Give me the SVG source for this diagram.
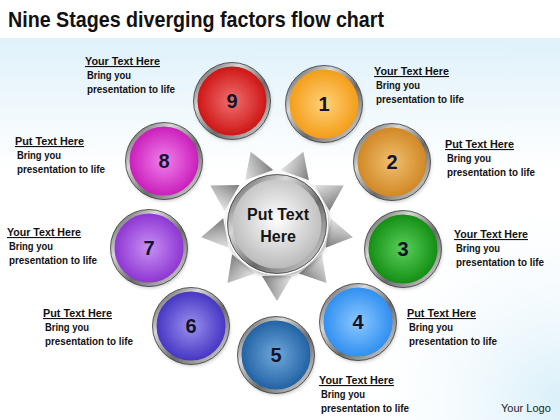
<svg xmlns="http://www.w3.org/2000/svg" xmlns:xlink="http://www.w3.org/1999/xlink" width="560" height="420" viewBox="0 0 560 420">
<defs>
<style>
.title{font-family:"Liberation Sans",Arial,sans-serif;font-weight:bold;font-size:22px;fill:#111}
.hd{font-family:"Liberation Sans",Arial,sans-serif;font-weight:bold;font-size:11px;fill:#111;text-decoration:underline}
.bd{font-family:"Liberation Sans",Arial,sans-serif;font-weight:bold;font-size:10.5px;fill:#111}
.num{font-family:"Liberation Sans",Arial,sans-serif;font-weight:bold;font-size:20px;fill:#141428;text-anchor:middle}
.ctr{font-family:"Liberation Sans",Arial,sans-serif;font-weight:bold;font-size:16px;fill:#151515;text-anchor:middle}
.logo{font-family:"Liberation Sans",Arial,sans-serif;font-size:11px;fill:#222}
.ring{fill:none;stroke:url(#metal);stroke-width:4}
.rim{fill:none;stroke:#3a3a3a;stroke-width:0.8}
.hl{fill:url(#hl)}
</style>
<linearGradient id="bgTop" x1="0" y1="0" x2="0" y2="1">
<stop offset="0" stop-color="#dff1fa"/>
<stop offset="0.35" stop-color="#ffffff"/>
<stop offset="1" stop-color="#ffffff"/>
</linearGradient>
<radialGradient id="bgBR" cx="560" cy="400" r="220" gradientUnits="userSpaceOnUse">
<stop offset="0" stop-color="#d9eff9"/>
<stop offset="1" stop-color="#ffffff" stop-opacity="0"/>
</radialGradient>
<linearGradient id="metal" x1="0" y1="0" x2="1" y2="1">
<stop offset="0" stop-color="#4a4a4a"/>
<stop offset="0.3" stop-color="#d8d8d8"/>
<stop offset="0.6" stop-color="#6a6a6a"/>
<stop offset="1" stop-color="#e0e0e0"/>
</linearGradient>
<radialGradient id="hl" cx="0.5" cy="0.25" r="0.5">
<stop offset="0" stop-color="#ffffff" stop-opacity="0.35"/>
<stop offset="1" stop-color="#ffffff" stop-opacity="0"/>
</radialGradient>
<filter id="sh" x="-30%" y="-30%" width="160%" height="160%">
<feDropShadow dx="1" dy="2" stdDeviation="2" flood-color="#000" flood-opacity="0.35"/>
</filter>
<radialGradient id="g1" cx="0.5" cy="0.5" r="0.5"><stop offset="0" stop-color="#ffd27a"/><stop offset="1" stop-color="#f39a12"/></radialGradient>
<radialGradient id="g2" cx="0.5" cy="0.5" r="0.5"><stop offset="0" stop-color="#f0c070"/><stop offset="1" stop-color="#cf8420"/></radialGradient>
<radialGradient id="g3" cx="0.5" cy="0.5" r="0.5"><stop offset="0" stop-color="#5ad05a"/><stop offset="1" stop-color="#108a10"/></radialGradient>
<radialGradient id="g4" cx="0.5" cy="0.5" r="0.5"><stop offset="0" stop-color="#8cc8ff"/><stop offset="1" stop-color="#2a8cf0"/></radialGradient>
<radialGradient id="g5" cx="0.5" cy="0.5" r="0.5"><stop offset="0" stop-color="#70a8dc"/><stop offset="1" stop-color="#1d5ea0"/></radialGradient>
<radialGradient id="g6" cx="0.5" cy="0.5" r="0.5"><stop offset="0" stop-color="#9a90f0"/><stop offset="1" stop-color="#4030c0"/></radialGradient>
<radialGradient id="g7" cx="0.5" cy="0.5" r="0.5"><stop offset="0" stop-color="#c890f4"/><stop offset="1" stop-color="#8a30d0"/></radialGradient>
<radialGradient id="g8" cx="0.5" cy="0.5" r="0.5"><stop offset="0" stop-color="#f080ec"/><stop offset="1" stop-color="#c818b8"/></radialGradient>
<radialGradient id="g9" cx="0.5" cy="0.5" r="0.5"><stop offset="0" stop-color="#f07070"/><stop offset="1" stop-color="#cc1010"/></radialGradient>
<radialGradient id="gc" cx="0.5" cy="0.45" r="0.55"><stop offset="0" stop-color="#ffffff"/><stop offset="1" stop-color="#b8b8b8"/></radialGradient>
<linearGradient id="tri" x1="0" y1="0" x2="0" y2="1">
<stop offset="0" stop-color="#e4e4e4"/>
<stop offset="0.5" stop-color="#b4b4b4"/>
<stop offset="1" stop-color="#7c7c7c"/>
</linearGradient>
<polygon id="ray" points="52,-15 77,0 52,15" fill="url(#tri)"/>
</defs>

<rect x="0" y="0" width="560" height="420" fill="#ffffff"/>
<rect x="0" y="38" width="560" height="382" fill="url(#bgTop)"/>
<rect x="0" y="0" width="560" height="420" fill="url(#bgBR)"/>

<text class="title" x="8" y="27" textLength="376" lengthAdjust="spacingAndGlyphs">Nine Stages diverging factors flow chart</text>

<g id="connectors">
<g id="rays" transform="translate(277,224)">
<use xlink:href="#ray" transform="rotate(90)"/>
<use xlink:href="#ray" transform="rotate(130)"/>
<use xlink:href="#ray" transform="rotate(170)"/>
<use xlink:href="#ray" transform="rotate(210)"/>
<use xlink:href="#ray" transform="rotate(250)"/>
<use xlink:href="#ray" transform="rotate(290)"/>
<use xlink:href="#ray" transform="rotate(330)"/>
<use xlink:href="#ray" transform="rotate(10)"/>
<use xlink:href="#ray" transform="rotate(50)"/>
</g>
</g>

<g id="center">
<circle cx="277" cy="224" r="51" fill="#ffffff" filter="url(#sh)"/>
<circle cx="277" cy="224" r="46" fill="url(#gc)"/>
<circle cx="277" cy="224" r="47" fill="none" stroke="url(#metal)" stroke-width="5"/>
<circle cx="277" cy="224" r="49.5" class="rim"/>
<text class="ctr" x="278" y="220">Put Text</text>
<text class="ctr" x="278" y="242">Here</text>
</g>

<g id="node1">
<circle cx="324" cy="104" r="37" fill="url(#g1)" filter="url(#sh)"/>
<circle cx="324" cy="104" r="36.5" class="ring"/><circle cx="324" cy="104" r="38.5" class="rim"/>
<text class="num" x="324" y="111">1</text>
<text class="hd" x="374" y="75" textLength="75" lengthAdjust="spacingAndGlyphs">Your  Text Here</text>
<text class="bd" x="376" y="89" textLength="44" lengthAdjust="spacingAndGlyphs">Bring you</text>
<text class="bd" x="376" y="103" textLength="88" lengthAdjust="spacingAndGlyphs">presentation to life</text>
</g>

<g id="node2">
<circle cx="392" cy="162" r="37" fill="url(#g2)" filter="url(#sh)"/>
<circle cx="392" cy="162" r="36.5" class="ring"/><circle cx="392" cy="162" r="38.5" class="rim"/>
<text class="num" x="392" y="169">2</text>
<text class="hd" x="445" y="148" textLength="69" lengthAdjust="spacingAndGlyphs">Put Text Here</text>
<text class="bd" x="447" y="162" textLength="44" lengthAdjust="spacingAndGlyphs">Bring you</text>
<text class="bd" x="447" y="176" textLength="88" lengthAdjust="spacingAndGlyphs">presentation to life</text>
</g>

<g id="node3">
<circle cx="403" cy="249" r="37" fill="url(#g3)" filter="url(#sh)"/>
<circle cx="403" cy="249" r="36.5" class="ring"/><circle cx="403" cy="249" r="38.5" class="rim"/>
<text class="num" x="403" y="256">3</text>
<text class="hd" x="454" y="238" textLength="74" lengthAdjust="spacingAndGlyphs">Your Text Here</text>
<text class="bd" x="456" y="252" textLength="44" lengthAdjust="spacingAndGlyphs">Bring you</text>
<text class="bd" x="456" y="266" textLength="88" lengthAdjust="spacingAndGlyphs">presentation to life</text>
</g>

<g id="node4">
<circle cx="358" cy="322" r="37" fill="url(#g4)" filter="url(#sh)"/>
<circle cx="358" cy="322" r="36.5" class="ring"/><circle cx="358" cy="322" r="38.5" class="rim"/>
<text class="num" x="358" y="329">4</text>
<text class="hd" x="407" y="317" textLength="69" lengthAdjust="spacingAndGlyphs">Put Text Here</text>
<text class="bd" x="409" y="331" textLength="44" lengthAdjust="spacingAndGlyphs">Bring you</text>
<text class="bd" x="409" y="345" textLength="88" lengthAdjust="spacingAndGlyphs">presentation to life</text>
</g>

<g id="node5">
<circle cx="276" cy="355" r="37" fill="url(#g5)" filter="url(#sh)"/>
<circle cx="276" cy="355" r="36.5" class="ring"/><circle cx="276" cy="355" r="38.5" class="rim"/>
<text class="num" x="276" y="362">5</text>
<text class="hd" x="319" y="384" textLength="75" lengthAdjust="spacingAndGlyphs">Your  Text Here</text>
<text class="bd" x="321" y="398" textLength="44" lengthAdjust="spacingAndGlyphs">Bring you</text>
<text class="bd" x="321" y="412" textLength="88" lengthAdjust="spacingAndGlyphs">presentation to life</text>
</g>

<g id="node6">
<circle cx="191" cy="326" r="37" fill="url(#g6)" filter="url(#sh)"/>
<circle cx="191" cy="326" r="36.5" class="ring"/><circle cx="191" cy="326" r="38.5" class="rim"/>
<text class="num" x="191" y="333">6</text>
<text class="hd" x="43" y="317" textLength="69" lengthAdjust="spacingAndGlyphs">Put Text Here</text>
<text class="bd" x="45" y="331" textLength="44" lengthAdjust="spacingAndGlyphs">Bring you</text>
<text class="bd" x="45" y="345" textLength="88" lengthAdjust="spacingAndGlyphs">presentation to life</text>
</g>

<g id="node7">
<circle cx="149" cy="248" r="37" fill="url(#g7)" filter="url(#sh)"/>
<circle cx="149" cy="248" r="36.5" class="ring"/><circle cx="149" cy="248" r="38.5" class="rim"/>
<text class="num" x="149" y="255">7</text>
<text class="hd" x="7" y="236" textLength="74" lengthAdjust="spacingAndGlyphs">Your Text Here</text>
<text class="bd" x="9" y="250" textLength="44" lengthAdjust="spacingAndGlyphs">Bring you</text>
<text class="bd" x="9" y="264" textLength="88" lengthAdjust="spacingAndGlyphs">presentation to life</text>
</g>

<g id="node8">
<circle cx="164" cy="161" r="37" fill="url(#g8)" filter="url(#sh)"/>
<circle cx="164" cy="161" r="36.5" class="ring"/><circle cx="164" cy="161" r="38.5" class="rim"/>
<text class="num" x="164" y="168">8</text>
<text class="hd" x="15" y="145" textLength="69" lengthAdjust="spacingAndGlyphs">Put Text Here</text>
<text class="bd" x="17" y="159" textLength="44" lengthAdjust="spacingAndGlyphs">Bring you</text>
<text class="bd" x="17" y="173" textLength="88" lengthAdjust="spacingAndGlyphs">presentation to life</text>
</g>

<g id="node9">
<circle cx="232" cy="101" r="37" fill="url(#g9)" filter="url(#sh)"/>
<circle cx="232" cy="101" r="36.5" class="ring"/><circle cx="232" cy="101" r="38.5" class="rim"/>
<text class="num" x="232" y="108">9</text>
<text class="hd" x="85" y="65" textLength="75" lengthAdjust="spacingAndGlyphs">Your  Text Here</text>
<text class="bd" x="87" y="79" textLength="44" lengthAdjust="spacingAndGlyphs">Bring you</text>
<text class="bd" x="87" y="93" textLength="88" lengthAdjust="spacingAndGlyphs">presentation to life</text>
</g>

<text class="logo" x="501" y="412">Your Logo</text>
</svg>
